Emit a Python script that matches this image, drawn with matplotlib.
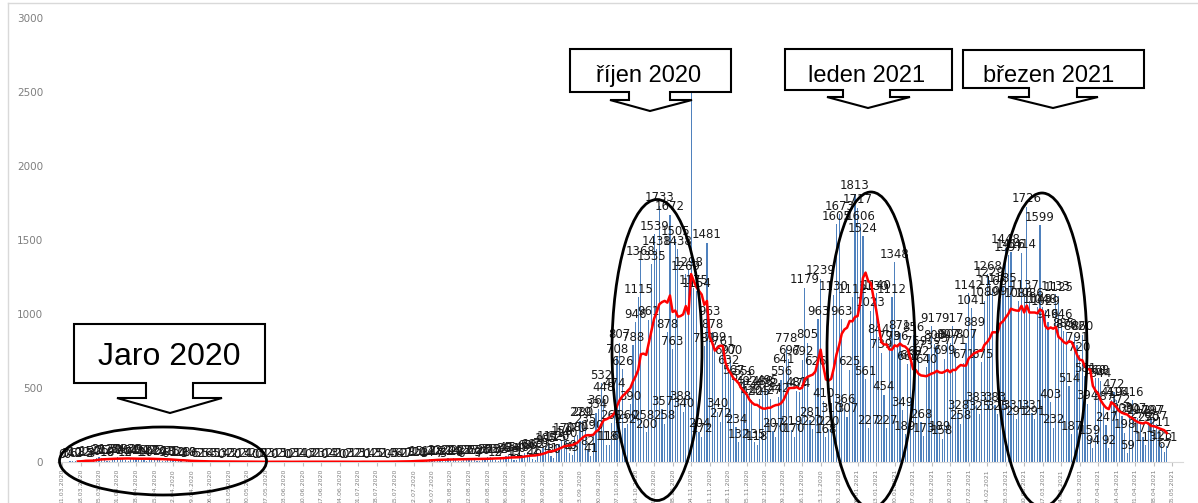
import numpy as np
import pandas as pd
import matplotlib
matplotlib.use("Agg")
import matplotlib.pyplot as plt
from matplotlib.patches import Ellipse, Polygon
from matplotlib.lines import Line2D

# daily counts from 11.03.2020 to 03.05.2021
mar_2020 = [0, 3, 0, 4, 6, 10, 2, 8, 12, 15, 5, 3, 20, 25, 31, 25, 22, 10, 8, 28, 30]
apr_2020 = [34, 28, 26, 12, 9, 24, 30, 29, 26, 24, 14, 10, 22, 27, 25, 22, 20, 9, 6, 18, 21,
            15, 12, 10, 4, 3, 8, 10, 8, 6]
may_2020 = [5, 2, 1, 5, 6, 4, 3, 5, 1, 0, 3, 4, 2, 3, 2, 0, 1, 2, 3, 4, 1, 2, 0, 0, 3, 2,
            1, 2, 3, 0, 1]
jun_2020 = [2, 3, 1, 0, 0, 2, 3, 1, 2, 4, 1, 0, 3, 2, 2, 1, 3, 0, 1, 2, 4, 3, 2, 1, 0, 0,
            2, 3, 1, 2]
jul_2020 = [2, 3, 1, 0, 1, 4, 2, 3, 5, 2, 1, 0, 4, 3, 5, 6, 4, 2, 1, 7, 8, 12, 15, 10, 4,
            3, 14, 17, 20, 22, 18]
aug_2020 = [7, 5, 21, 24, 22, 24, 20, 8, 6, 23, 26, 25, 27, 22, 9, 7, 26, 30, 31, 33, 28,
            12, 9, 32, 36, 42, 45, 38, 15, 11, 40]
sep_2020 = [48, 60, 66, 58, 22, 16, 62, 70, 95, 105, 117, 41, 30, 115, 120, 150, 170, 140,
            60, 45, 170, 180, 279, 280, 235, 82, 41, 190, 334, 360]
oct_2020 = [532, 448, 118, 116, 261, 474, 708, 807, 626, 232, 260, 390, 788, 946, 1115,
            1368, 258, 200, 961, 1335, 1539, 1438, 1733, 357, 258, 878, 1672, 763, 1505,
            1438, 388]
nov_2020 = [340, 1269, 1298, 2650, 1175, 1154, 204, 172, 781, 1481, 963, 878, 789, 340,
            272, 761, 697, 632, 700, 567, 234, 132, 523, 556, 492, 456, 420, 135, 118, 425]
dec_2020 = [488, 478, 495, 427, 207, 170, 442, 556, 641, 778, 697, 219, 170, 481, 474, 692,
            1179, 805, 281, 220, 626, 963, 1239, 410, 168, 220, 310, 1130, 1605, 1673, 963]
jan_2021 = [366, 307, 625, 1112, 1813, 1717, 1606, 1524, 561, 227, 1023, 1130, 1140, 844,
            739, 454, 227, 793, 1112, 1348, 796, 871, 349, 189, 662, 667, 856, 759, 692,
            268, 173]
feb_2021 = [640, 733, 917, 800, 783, 189, 158, 699, 807, 807, 917, 771, 328, 258, 671, 807,
            1142, 1041, 889, 383, 325, 675, 1089, 1268, 1229, 1166, 383, 325]
mar_2021 = [1097, 1185, 1448, 1397, 1416, 331, 291, 1086, 1414, 1137, 1726, 1086, 331, 291,
            1048, 1599, 1048, 1029, 946, 403, 232, 1133, 1125, 946, 885, 879, 514, 187,
            862, 791, 720]
apr_2021 = [860, 581, 394, 159, 94, 568, 568, 544, 387, 247, 92, 419, 472, 416, 372, 309,
            198, 59, 301, 416, 307, 297, 270, 171, 113, 250, 297, 297, 257, 211]
may_2021 = [125, 67, 111]

values = (mar_2020 + apr_2020 + may_2020 + jun_2020 + jul_2020 + aug_2020 + sep_2020
          + oct_2020 + nov_2020 + dec_2020 + jan_2021 + feb_2021 + mar_2021 + apr_2021
          + may_2021)

dates = pd.date_range("2020-03-11", periods=len(values), freq="D")
tick_dates = pd.date_range("2020-03-11", "2021-05-05", freq="7D")
tick_pos = (tick_dates - dates[0]).days
tick_labels = [d.strftime("%d.%m.%Y") for d in tick_dates]

W, H = 1198, 503
fig = plt.figure(figsize=(W / 100, H / 100), dpi=100)
ax = fig.add_axes([57 / W, 41 / H, 1126 / W, 444 / H])

x = np.arange(len(values))
bars = ax.bar(x, values, width=0.45, color="#4f81bd", zorder=2)
ax.bar_label(bars, labels=[str(v) for v in values], padding=1, fontsize=8.5,
             color="#1a1a1a")

# 7 day moving average (red line)
avg = pd.Series(values).rolling(7).mean()
ax.plot(x, avg, color="#ff0000", lw=1.8, zorder=3)

ax.set_xlim(-1.9, 424.1)
ax.set_ylim(0, 3000)
ax.set_yticks(range(0, 3001, 500))
ax.set_xticks(tick_pos)
ax.set_xticklabels(tick_labels, rotation=90, fontsize=4.5, color="#7f7f7f")
ax.tick_params(axis="y", length=0, labelsize=7.5, labelcolor="#7f7f7f", pad=10)
ax.tick_params(axis="x", length=3, color="#bfbfbf", pad=2)
for side in ["left", "right", "top"]:
    ax.spines[side].set_visible(False)
ax.spines["bottom"].set_color("#d9d9d9")


def px(x, y):
    return (x / W, 1 - y / H)


# chart area border (only top and left are inside the picture)
fig.add_artist(Line2D([8 / W, 8 / W], [0, 1 - 3 / H], color="#d9d9d9", lw=1,
                      transform=fig.transFigure))
fig.add_artist(Line2D([8 / W, 1], [1 - 3 / H, 1 - 3 / H], color="#d9d9d9", lw=1,
                      transform=fig.transFigure))

# ellipses round the waves
for cx, cy, w, h in [(163, 461, 207, 68), (657, 350, 90, 301),
                     (871, 350, 88, 316), (1042, 350, 90, 314)]:
    fig.add_artist(Ellipse(px(cx, cy), w / W, h / H, transform=fig.transFigure,
                           fill=False, edgecolor="black", lw=2, zorder=4))


def callout(box, stem, arrow, tip, text, tx, ty, size):
    x0, y0, x1, y1 = box
    s0, s1, ys = stem
    a0, a1 = arrow
    px_, py_ = tip
    pts = [(x0, y0), (x1, y0), (x1, y1), (s1, y1), (s1, ys), (a1, ys), (px_, py_),
           (a0, ys), (s0, ys), (s0, y1), (x0, y1)]
    fig.add_artist(Polygon([px(*p) for p in pts], closed=True, transform=fig.transFigure,
                           facecolor="white", edgecolor="black", lw=1.5, zorder=5))
    fig.text(*px(tx, ty), text, ha="center", va="baseline", fontsize=size,
             family="Liberation Sans", color="black", zorder=6)


callout((74, 324, 265, 383), (146, 193, 398), (117, 222), (170, 413), "Jaro 2020", 169, 365, 23)
callout((570, 49, 731, 92), (629, 670, 100), (610, 692), (650, 111), "říjen 2020", 649, 82, 17)
callout((785, 49, 952, 90), (843, 890, 97), (827, 910), (868, 108), "leden 2021", 867, 82, 17)
callout((963, 50, 1144, 88), (1029, 1077, 97), (1008, 1098), (1053, 108), "březen 2021", 1049, 82, 17)

fig.savefig("out.png", dpi=100)
